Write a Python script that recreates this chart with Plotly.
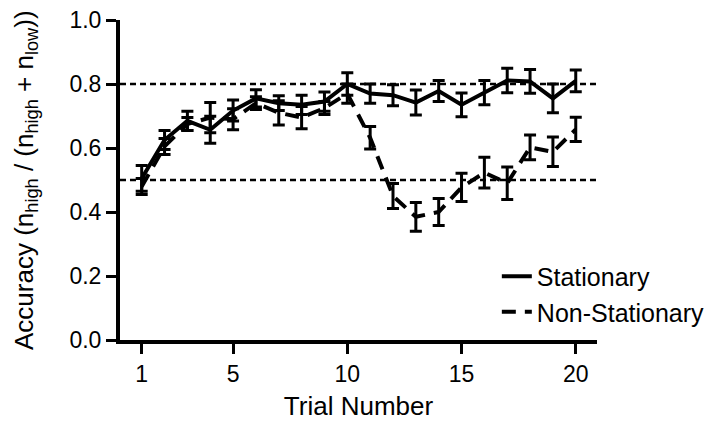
import plotly.graph_objects as go

trials = list(range(1, 21))
stationary = [0.505, 0.625, 0.685, 0.657, 0.717, 0.755, 0.740, 0.735, 0.745, 0.800,
              0.770, 0.765, 0.742, 0.778, 0.735, 0.773, 0.811, 0.808, 0.755, 0.810]
stationary_err = [0.040, 0.030, 0.030, 0.042, 0.033, 0.027, 0.023, 0.030, 0.030, 0.035,
                  0.030, 0.033, 0.039, 0.033, 0.037, 0.038, 0.038, 0.037, 0.045, 0.034]
nonstationary = [0.480, 0.605, 0.675, 0.695, 0.690, 0.740, 0.710, 0.695, 0.725, 0.770,
                 0.632, 0.450, 0.385, 0.400, 0.477, 0.523, 0.490, 0.602, 0.588, 0.658]
nonstationary_err = [0.025, 0.025, 0.020, 0.047, 0.033, 0.020, 0.038, 0.035, 0.020, 0.030,
                     0.035, 0.039, 0.045, 0.042, 0.044, 0.048, 0.051, 0.039, 0.046, 0.038]
ref_levels = [0.5, 0.8]
x_ticks = [1, 5, 10, 15, 20]

FONT = "Arial, Liberation Sans, sans-serif"

fig = go.Figure()
fig.add_trace(go.Scatter(
    x=trials, y=stationary, mode="lines", name="Stationary", legendgroup="a",
    line=dict(color="black", width=4),
    error_y=dict(type="data", array=stationary_err, color="black", thickness=3, width=6),
))
fig.add_trace(go.Scatter(
    x=trials, y=nonstationary, mode="lines", name="Non-Stationary", legendgroup="b",
    line=dict(color="black", width=4, dash="14px,9px"),
    error_y=dict(type="data", array=nonstationary_err, color="black", thickness=3, width=6),
))
for lvl in ref_levels:
    fig.add_hline(y=lvl, line=dict(color="black", width=2.5, dash="6px,4px"), layer="below")

fig.add_annotation(
    text="Accuracy (n<sub>high</sub> / (n<sub>high</sub> + n<sub>low</sub>))",
    xref="paper", yref="paper", x=0, y=0.5, xshift=-95, textangle=-90,
    xanchor="center", yanchor="middle", showarrow=False,
    font=dict(size=26, family=FONT, color="black"),
)

fig.update_layout(
    width=728, height=421,
    margin=dict(l=120, r=131, t=20, b=80.5),
    paper_bgcolor="white", plot_bgcolor="white",
    font=dict(family=FONT, color="black", size=23),
    showlegend=True,
    legend=dict(x=0.79, y=0.27, xanchor="left", yanchor="top",
                font=dict(size=25, family=FONT), tracegroupgap=0,
                bgcolor="rgba(0,0,0,0)"),
    xaxis=dict(range=[0.05, 20.93], tickvals=x_ticks, showline=True, linewidth=4,
               linecolor="black", ticks="outside", ticklen=10, tickwidth=3,
               tickcolor="black", showgrid=False, zeroline=False, automargin=False,
               title=dict(text="Trial Number", font=dict(size=26), standoff=18),
               tickfont=dict(size=23)),
    yaxis=dict(range=[0, 1.0], dtick=0.2, tickformat=".1f", showline=True, linewidth=4,
               linecolor="black", ticks="outside", ticklen=10, tickwidth=3,
               tickcolor="black", showgrid=False, zeroline=False, automargin=False,
               tickfont=dict(size=23)),
)

fig.write_html("out.html")
